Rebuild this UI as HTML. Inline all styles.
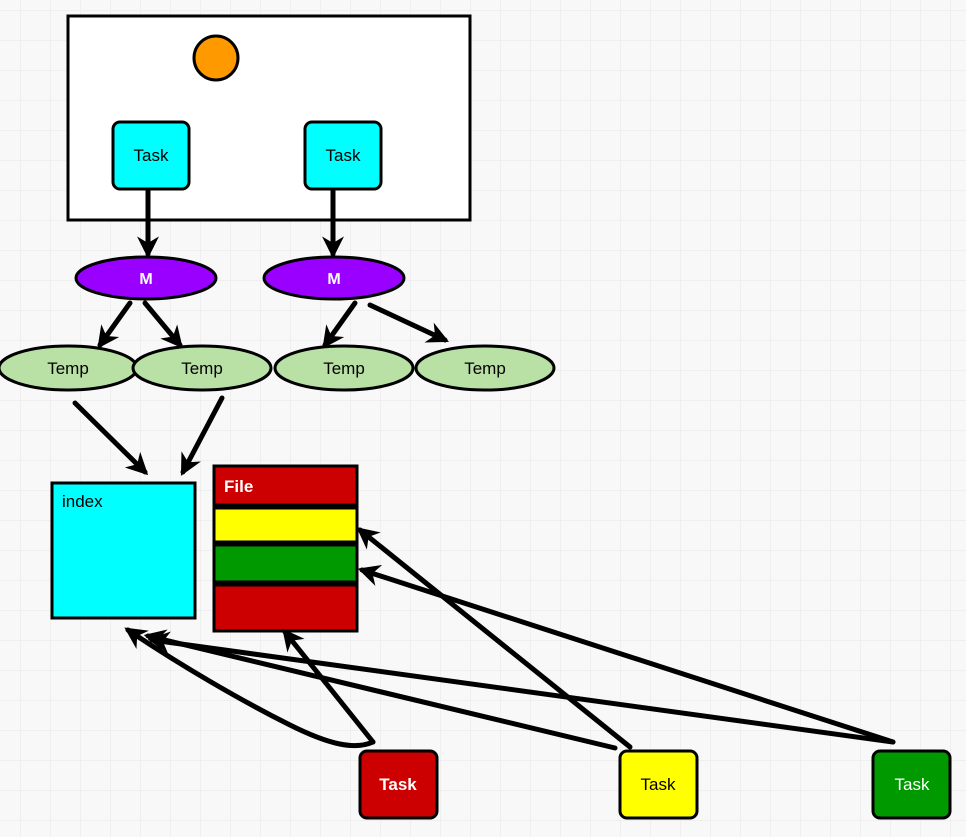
<!DOCTYPE html>
<html><head><meta charset="utf-8"><style>
html,body{margin:0;padding:0;background:#f8f8f8;}
svg{display:block;font-family:"Liberation Sans",sans-serif;}
</style></head><body>
<svg width="966" height="837" viewBox="0 0 966 837" xmlns="http://www.w3.org/2000/svg">
<defs>
<pattern id="g" x="20" y="10" width="30" height="30" patternUnits="userSpaceOnUse">
<path d="M0 0H30M0 0V30" stroke="#efefef" stroke-width="2" fill="none"/>
</pattern>
<marker id="a" viewBox="0 0 10 10" refX="8" refY="5" markerWidth="4.4" markerHeight="4.4" orient="auto" markerUnits="strokeWidth">
<path d="M0 0L10 5L0 10L3 5Z" fill="#000"/>
</marker>
</defs>
<rect width="966" height="837" fill="url(#g)"/>
<g stroke="#000" stroke-width="3">
<rect x="68" y="16" width="402" height="204" fill="#fff"/>
<circle cx="216" cy="58" r="22" fill="#ff9900"/>
<rect x="113" y="122" width="76" height="67" rx="7" fill="#00ffff"/>
<rect x="305" y="122" width="76" height="67" rx="7" fill="#00ffff"/>
<ellipse cx="146" cy="278" rx="70" ry="21" fill="#9900ff"/>
<ellipse cx="334" cy="278" rx="70" ry="21" fill="#9900ff"/>
<ellipse cx="68" cy="368" rx="69" ry="22" fill="#b9e0a5"/>
<ellipse cx="202" cy="368" rx="69" ry="22" fill="#b9e0a5"/>
<ellipse cx="344" cy="368" rx="69" ry="22" fill="#b9e0a5"/>
<ellipse cx="485" cy="368" rx="69" ry="22" fill="#b9e0a5"/>
<rect x="52" y="483" width="143" height="135" fill="#00ffff"/>
<rect x="214" y="466" width="143" height="39" fill="#cc0000"/>
<rect x="214" y="508" width="143" height="34" fill="#ffff00"/>
<rect x="214" y="545" width="143" height="37" fill="#009900"/>
<rect x="214" y="585" width="143" height="46" fill="#cc0000"/>
<rect x="360" y="751" width="77" height="67" rx="7" fill="#cc0000"/>
<rect x="620" y="751" width="77" height="67" rx="7" fill="#ffff00"/>
<rect x="873" y="751" width="77" height="67" rx="7" fill="#009900"/>
</g>
<g stroke="#000" stroke-width="5" fill="none" marker-end="url(#a)" stroke-linecap="round">
<path d="M148 191V254"/>
<path d="M333 191V254"/>
<path d="M130 303L100 345"/>
<path d="M145 303L180 345"/>
<path d="M355 303L325 345"/>
<path d="M370 305L445 340"/>
<path d="M75 403L145 472"/>
<path d="M222 398L183 472"/>
<path d="M373 742C355 750 330 745 290 725C240 700 180 665 128 630"/>
<path d="M373 742L285 632"/>
<path d="M615 748L148 636"/>
<path d="M630 747L360 530"/>
<path d="M893 742L152 640"/>
<path d="M893 742L362 570"/>
</g>
<g font-size="17" text-anchor="middle">
<text x="151" y="161">Task</text>
<text x="343" y="161">Task</text>
<text x="146" y="284" fill="#fff" font-weight="bold" font-size="16">M</text>
<text x="334" y="284" fill="#fff" font-weight="bold" font-size="16">M</text>
<text x="68" y="374">Temp</text>
<text x="202" y="374">Temp</text>
<text x="344" y="374">Temp</text>
<text x="485" y="374">Temp</text>
<text x="398" y="790" fill="#fff" font-weight="bold">Task</text>
<text x="658" y="790">Task</text>
<text x="912" y="790" fill="#fff">Task</text>
</g>
<text x="62" y="507" font-size="17">index</text>
<text x="224" y="492" font-size="17" fill="#fff" font-weight="bold">File</text>
</svg>
</body></html>
